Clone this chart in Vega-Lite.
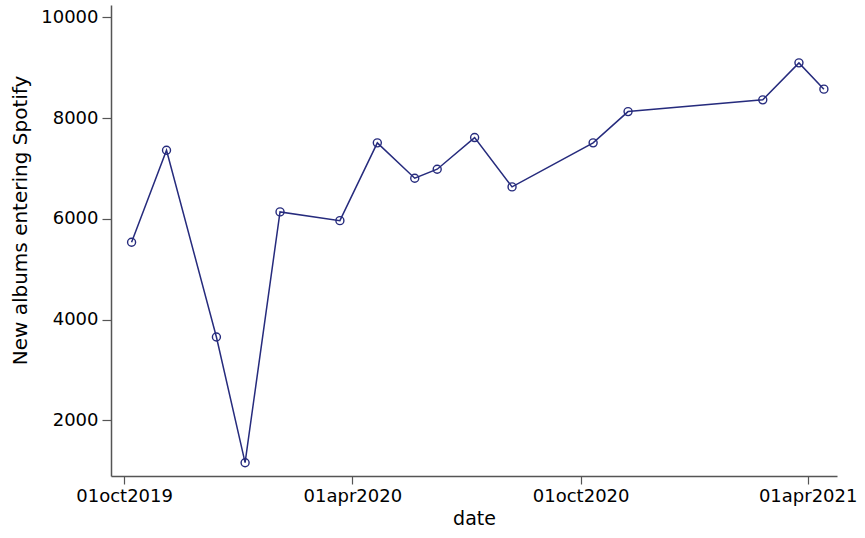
{
  "$schema": "https://vega.github.io/schema/vega-lite/v6.json",
  "autosize": "none",
  "width": 726,
  "height": 471,
  "padding": {"left": 111, "top": 5, "right": 28, "bottom": 62},
  "background": "white",
  "config": {"view": {"stroke": null}, "font": "DejaVu Sans"},
  "data": {"values": [
    {"date": "2019-10-07", "albums": 5535},
    {"date": "2019-11-04", "albums": 7362},
    {"date": "2019-12-14", "albums": 3654},
    {"date": "2020-01-06", "albums": 1158},
    {"date": "2020-02-03", "albums": 6137},
    {"date": "2020-03-22", "albums": 5964},
    {"date": "2020-04-21", "albums": 7508},
    {"date": "2020-05-21", "albums": 6806},
    {"date": "2020-06-08", "albums": 6985},
    {"date": "2020-07-08", "albums": 7613},
    {"date": "2020-08-07", "albums": 6634},
    {"date": "2020-10-11", "albums": 7508},
    {"date": "2020-11-08", "albums": 8129},
    {"date": "2021-02-24", "albums": 8362},
    {"date": "2021-03-25", "albums": 9096},
    {"date": "2021-04-14", "albums": 8574}
  ]},
  "encoding": {
    "x": {
      "field": "date", "type": "temporal",
      "scale": {"domain": ["2019-09-20T12:00:00", "2021-04-24T12:00:00"], "nice": false},
      "axis": {
        "title": "date", "titleFontSize": 19, "titleFontWeight": "normal", "titleColor": "black", "titlePadding": 4,
        "values": ["2019-10-01T00:00:00", "2020-04-01T00:00:00", "2020-10-01T00:00:00", "2021-04-01T00:00:00"],
        "labelExpr": "lower(timeFormat(datum.value, '%d%b%Y'))",
        "labelFontSize": 18, "labelColor": "black", "labelPadding": 3,
        "grid": false, "domainColor": "#555555", "domainWidth": 1.5, "tickColor": "#555555", "tickSize": 8, "tickWidth": 1.2
      }
    },
    "y": {
      "field": "albums", "type": "quantitative",
      "scale": {"domain": [894, 10245], "nice": false, "zero": false},
      "axis": {
        "title": "New albums entering Spotify", "titleFontSize": 20, "titleFontWeight": "normal", "titleColor": "black", "titlePadding": 10, "titleY": 215,
        "values": [2000, 4000, 6000, 8000, 10000], "format": "d",
        "labelFontSize": 18, "labelColor": "black", "labelPadding": 4,
        "grid": false, "domainColor": "#555555", "domainWidth": 1.5, "tickColor": "#555555", "tickSize": 9, "tickWidth": 1.2
      }
    }
  },
  "layer": [
    {"mark": {"type": "line", "color": "#262b7d", "strokeWidth": 1.5}},
    {"mark": {"type": "point", "shape": "circle", "filled": false, "color": "#262b7d", "size": 64, "strokeWidth": 1.4, "opacity": 1}}
  ]
}
